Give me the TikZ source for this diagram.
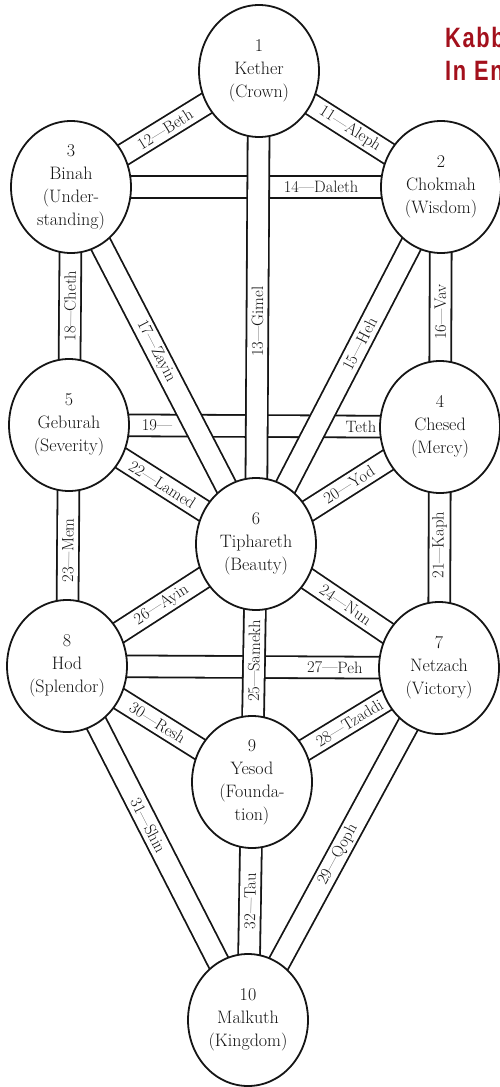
\documentclass[tikz,border=0pt]{standalone}
\usepackage{fontspec}
\usetikzlibrary{shapes.geometric,backgrounds}
\newfontfamily\kbTitleFont[FakeStretch=0.78,LetterSpace=6]{Liberation Sans}
\definecolor{kbInk}{HTML}{151515}
\definecolor{kbRed}{HTML}{A3101C}

\begin{document}
\begin{tikzpicture}[x=1pt,y=-1pt,
    sephira/.style={ellipse,draw=kbInk,line width=1.8pt,fill=white,
      minimum width=120pt,minimum height=132pt,inner sep=0pt,align=center,
      text=kbInk,font=\fontsize{18}{23}\selectfont},
    pathband/.style={draw=kbInk,line width=1.8pt,double=white,double distance=20pt},
    pathlabel/.style={sloped,inner sep=0pt,text=kbInk,font=\fontsize{16.5}{18}\selectfont},
    titleline/.style={anchor=base west,inner sep=0pt,text=kbRed,
      font=\kbTitleFont\bfseries\fontsize{28}{33}\selectfont}]
  \useasboundingbox (0,0) rectangle (500,1087);

  \node[sephira] (kether)    at (259,71)   {1\\Kether\\(Crown)};
  \node[sephira] (chokmah)   at (441,187)  {2\\Chokmah\\(Wisdom)};
  \node[sephira] (binah)     at (71,187)   {3\\Binah\\(Under-\\standing)};
  \node[sephira] (chesed)    at (440,427)  {4\\Chesed\\(Mercy)};
  \node[sephira] (geburah)   at (69,425)   {5\\Geburah\\(Severity)};
  \node[sephira] (tiphareth) at (256,544)  {6\\Tiphareth\\(Beauty)};
  \node[sephira] (netzach)   at (439,668)  {7\\Netzach\\(Victory)};
  \node[sephira] (hod)       at (67,666)   {8\\Hod\\(Splendor)};
  \node[sephira] (yesod)     at (252,782)  {9\\Yesod\\(Founda-\\tion)};
  \node[sephira] (malkuth)   at (248,1020) {10\\Malkuth\\(Kingdom)};

  \begin{scope}
    \clip (0,0) rectangle (500,1087);
    \node[titleline] (title1) at (445,47) {Kabbalah};
    \node[titleline] (title2) at (445,80) {In English};
  \end{scope}

  \begin{scope}[on background layer]
    \draw[pathband] (binah.center) -- node[pathlabel,pos=.676] {14---Daleth} (chokmah.center);
    \draw[pathband] (geburah.center) -- node[pathlabel,pos=.237] {19---}
      node[pathlabel,pos=.787] {Teth} (chesed.center);
    \draw[pathband] (hod.center) -- node[pathlabel,pos=.72] {27---Peh} (netzach.center);

    \draw[pathband] (kether.center) -- node[pathlabel,pos=.5] {11---Aleph} (chokmah.center);
    \draw[pathband] (binah.center) -- node[pathlabel,pos=.5] {12---Beth} (kether.center);
    \draw[pathband] (tiphareth.center) -- node[pathlabel,pos=.47] {13---Gimel} (kether.center);
    \draw[pathband] (tiphareth.center) -- node[pathlabel,pos=.56] {15---Heh} (chokmah.center);
    \draw[pathband] (chesed.center) -- node[pathlabel,pos=.48] {16---Vav} (chokmah.center);
    \draw[pathband] (binah.center) -- node[pathlabel,pos=.46] {17---Zayin} (tiphareth.center);
    \draw[pathband] (geburah.center) -- node[pathlabel,pos=.5] {18---Cheth} (binah.center);
    \draw[pathband] (tiphareth.center) -- node[pathlabel,pos=.505] {20---Yod} (chesed.center);
    \draw[pathband] (netzach.center) -- node[pathlabel,pos=.51] {21---Kaph} (chesed.center);
    \draw[pathband] (geburah.center) -- node[pathlabel,pos=.5] {22---Lamed} (tiphareth.center);
    \draw[pathband] (hod.center) -- node[pathlabel,pos=.48] {23---Mem} (geburah.center);
    \draw[pathband] (tiphareth.center) -- node[pathlabel,pos=.49] {24---Nun} (netzach.center);
    \draw[pathband] (yesod.center) -- node[pathlabel,pos=.51] {25---Samekh} (tiphareth.center);
    \draw[pathband] (hod.center) -- node[pathlabel,pos=.5] {26---Ayin} (tiphareth.center);
    \draw[pathband] (yesod.center) -- node[pathlabel,pos=.52] {28---Tzaddi} (netzach.center);
    \draw[pathband] (malkuth.center) -- node[pathlabel,pos=.47] {29---Qoph} (netzach.center);
    \draw[pathband] (hod.center) -- node[pathlabel,pos=.49] {30---Resh} (yesod.center);
    \draw[pathband] (hod.center) -- node[pathlabel,pos=.45] {31---Shin} (malkuth.center);
    \draw[pathband] (malkuth.center) -- node[pathlabel,pos=.5] {32---Tau} (yesod.center);
  \end{scope}
\end{tikzpicture}
\end{document}
